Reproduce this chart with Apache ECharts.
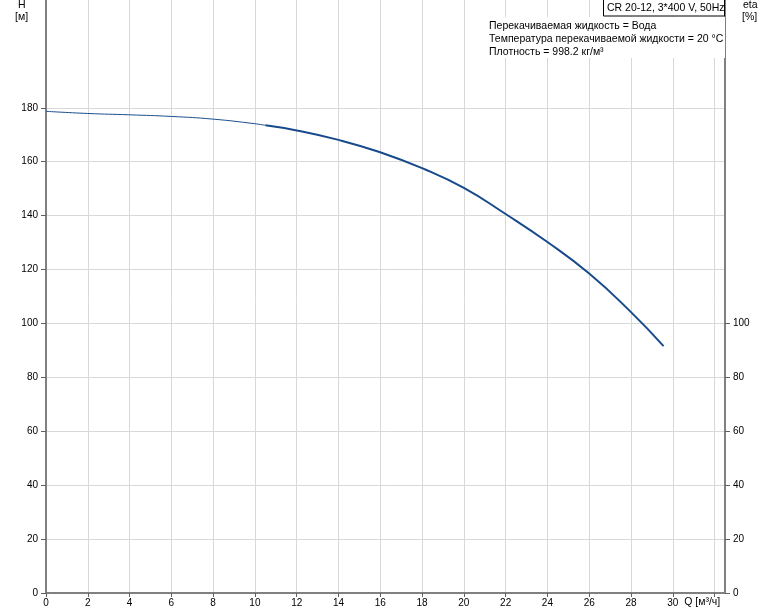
<!DOCTYPE html>
<html>
<head>
<meta charset="utf-8">
<script src="https://cdn.jsdelivr.net/npm/echarts@6/dist/echarts.min.js"></script>
<style>html,body{margin:0;padding:0;background:#fff;}#c{width:774px;height:611px;}</style>
</head>
<body>
<div id="c"></div>
<script>
// Data
var qLow = [0, 2, 4, 6, 8, 10, 10.5];
var hLow = [178.7, 177.9, 177.4, 176.8, 175.8, 174.1, 173.5];
var qMain = [10.5, 12, 14, 16, 18, 20, 22, 24, 26, 28, 29.56];
var hMain = [173.5, 171.6, 168.1, 163.5, 157.6, 150.3, 140.6, 130.2, 118.5, 104.2, 91.6];
var xTickLabels = [0, 2, 4, 6, 8, 10, 12, 14, 16, 18, 20, 22, 24, 26, 28, 30];
var xTicks = [0, 2, 4, 6, 8, 10, 12, 14, 16, 18, 20, 22, 24, 26, 28, 30, 32];
var hTicks = [0, 20, 40, 60, 80, 100, 120, 140, 160, 180];
var etaTicks = [0, 20, 40, 60, 80, 100];
var titleText = 'CR 20-12, 3*400 V, 50Hz';
var infoLines = ['Перекачиваемая жидкость = Вода', 'Температура перекачиваемой жидкости = 20 °C', 'Плотность = 998.2 кг/м³'];

function pairs(xs, ys) { return xs.map(function (x, i) { return [x, ys[i]]; }); }

var FONT = 'Liberation Sans, Arial, sans-serif';
var TF = '10.5px ' + FONT;
var chart = echarts.init(document.getElementById('c'), null, { renderer: 'canvas' });
var axisLineStyle = { color: '#808080', width: 2 };
var splitStyle = { color: '#d8d8d8', width: 1 };
chart.setOption({
  animation: false,
  backgroundColor: '#fff',
  grid: { left: 46, right: 49, top: 0, bottom: 18, containLabel: false },
  xAxis: {
    type: 'value', min: 0, max: 32.5, interval: 2,
    name: 'Q [м³/ч]', nameLocation: 'end', nameGap: -5,
    nameTextStyle: { fontFamily: FONT, fontSize: 10.5, color: '#000', align: 'right', verticalAlign: 'top', padding: [4, 0, 0, 0] },
    axisLine: { show: true, onZero: false, lineStyle: axisLineStyle },
    axisTick: { show: true, length: 4, lineStyle: { color: '#606060' }, customValues: xTicks },
    axisLabel: { fontFamily: FONT, fontSize: 10, color: '#000', margin: 5, customValues: xTickLabels, hideOverlap: false },
    splitLine: { show: true, lineStyle: splitStyle }
  },
  yAxis: [{
    type: 'value', min: 0, max: 220, interval: 20, position: 'left',
    axisLine: { show: true, lineStyle: axisLineStyle },
    axisTick: { show: true, length: 5, lineStyle: { color: '#606060' }, customValues: hTicks },
    axisLabel: { fontFamily: FONT, fontSize: 10, color: '#000', margin: 8, customValues: hTicks },
    splitLine: { show: true, lineStyle: splitStyle }
  }, {
    type: 'value', min: 0, max: 220, interval: 20, position: 'right',
    axisLine: { show: true, lineStyle: axisLineStyle },
    axisTick: { show: true, length: 5, lineStyle: { color: '#606060' }, customValues: etaTicks },
    axisLabel: { fontFamily: FONT, fontSize: 10, color: '#000', margin: 8, customValues: etaTicks },
    splitLine: { show: false }
  }],
  series: [{
    type: 'line', data: pairs(qLow, hLow), smooth: true, showSymbol: false,
    lineStyle: { color: '#1a4f8f', width: 1 }, z: 3
  }, {
    type: 'line', data: pairs(qMain, hMain), smooth: true, showSymbol: false,
    lineStyle: { color: '#174a8b', width: 2 }, z: 3
  }],
  graphic: [
    { type: 'text', x: 18, y: 0, style: { text: 'H', font: TF, fill: '#000' } },
    { type: 'text', x: 15, y: 12, style: { text: '[м]', font: TF, fill: '#000' } },
    { type: 'text', x: 743, y: 0, style: { text: 'eta', font: TF, fill: '#000' } },
    { type: 'text', x: 742, y: 12, style: { text: '[%]', font: TF, fill: '#000' } },
    { type: 'rect', shape: { x: 486, y: 17, width: 239, height: 41 }, style: { fill: '#fff' }, z: 10 },
    { type: 'rect', shape: { x: 603.5, y: -1, width: 121, height: 17 }, style: { fill: '#fff', stroke: '#000', lineWidth: 1 }, z: 10 },
    { type: 'text', x: 607, y: 3, style: { text: titleText, font: TF, fill: '#000' }, z: 11 },
    { type: 'text', x: 489, y: 21, style: { text: infoLines[0], font: TF, fill: '#000' }, z: 11 },
    { type: 'text', x: 489, y: 34, style: { text: infoLines[1], font: TF, fill: '#000' }, z: 11 },
    { type: 'text', x: 489, y: 47, style: { text: infoLines[2], font: TF, fill: '#000' }, z: 11 }
  ]
});
</script>
</body>
</html>
